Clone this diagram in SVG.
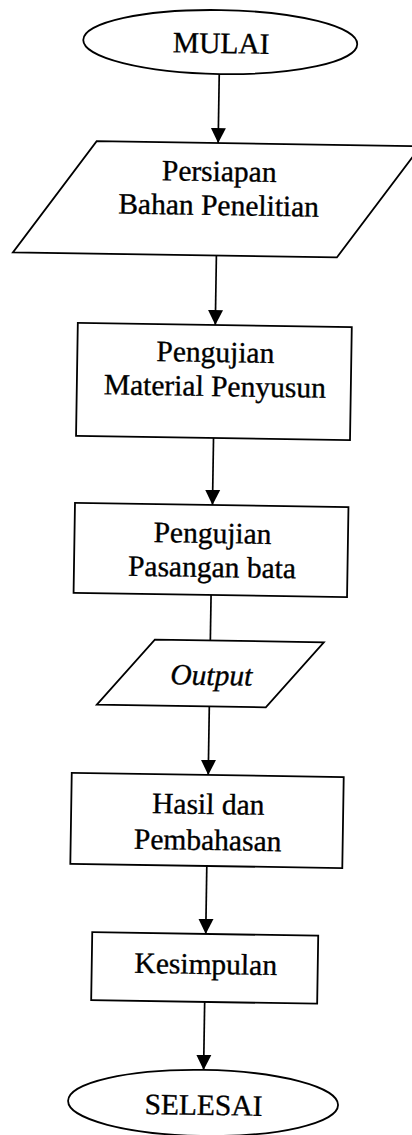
<svg xmlns="http://www.w3.org/2000/svg" width="412" height="1135" viewBox="0 0 412 1135">
  <style>
    .shape { fill: #ffffff; stroke: #000000; stroke-width: 1.8; }
    .edge { fill: none; stroke: #000000; stroke-width: 1.7; }
    .label { font-family: "Liberation Serif", "Times New Roman", serif; font-size: 29.5px; fill: #000000; stroke: #000000; stroke-width: 0.35; text-anchor: middle; }
    .italic { font-style: italic; }
  </style>
  <defs>
    <marker id="arrow" markerUnits="userSpaceOnUse" markerWidth="15" markerHeight="16" refX="15" refY="7.5" orient="auto" viewBox="0 0 15 15">
      <path d="M0,0 L15,7.5 L0,15 z" fill="#000000"/>
    </marker>
  </defs>
  <rect width="412" height="1135" fill="#ffffff"/>
  <!-- whole chart sits on a slightly tilted page -->
  <g transform="rotate(0.9 212 567)">
    <g id="connectors">
      <line class="edge" x1="211.5" y1="74" x2="211.5" y2="143" marker-end="url(#arrow)"/>
      <line class="edge" x1="211.5" y1="255.5" x2="211.5" y2="325" marker-end="url(#arrow)"/>
      <line class="edge" x1="211.5" y1="438" x2="211.5" y2="505" marker-end="url(#arrow)"/>
      <line class="edge" x1="211.5" y1="595" x2="211.5" y2="640.5"/>
      <line class="edge" x1="211.5" y1="706.5" x2="211.5" y2="775" marker-end="url(#arrow)"/>
      <line class="edge" x1="211.5" y1="866" x2="211.5" y2="934" marker-end="url(#arrow)"/>
      <line class="edge" x1="211.5" y1="1002" x2="211.5" y2="1070" marker-end="url(#arrow)"/>
    </g>

    <g id="mulai">
      <ellipse class="shape" cx="212" cy="42" rx="137" ry="32"/>
      <text class="label" x="213" y="53">MULAI</text>
    </g>

    <g id="persiapan">
      <polygon class="shape" points="90,143 414,143 332,255.5 8,255.5"/>
      <text class="label" x="213" y="181">Persiapan</text>
      <text class="label" x="213" y="215">Bahan Penelitian</text>
    </g>

    <g id="uji-material">
      <rect class="shape" x="74" y="325" width="274" height="113"/>
      <text class="label" x="212" y="362">Pengujian</text>
      <text class="label" x="212" y="396">Material Penyusun</text>
    </g>

    <g id="uji-pasangan">
      <rect class="shape" x="74" y="505" width="273.5" height="90"/>
      <text class="label" x="212" y="543">Pengujian</text>
      <text class="label" x="212" y="577">Pasangan bata</text>
    </g>

    <g id="output">
      <polygon class="shape" points="156,640.5 325,640.5 268,706.5 99,706.5"/>
      <text class="label italic" x="213" y="685">Output</text>
    </g>

    <g id="hasil">
      <rect class="shape" x="75" y="775" width="272" height="91"/>
      <text class="label" x="212" y="814">Hasil dan</text>
      <text class="label" x="212" y="850">Pembahasan</text>
    </g>

    <g id="kesimpulan">
      <rect class="shape" x="98" y="934" width="226" height="68"/>
      <text class="label" x="212" y="974">Kesimpulan</text>
    </g>

    <g id="selesai">
      <ellipse class="shape" cx="211.5" cy="1103" rx="135" ry="33"/>
      <text class="label" x="212" y="1115">SELESAI</text>
    </g>
  </g>
</svg>
